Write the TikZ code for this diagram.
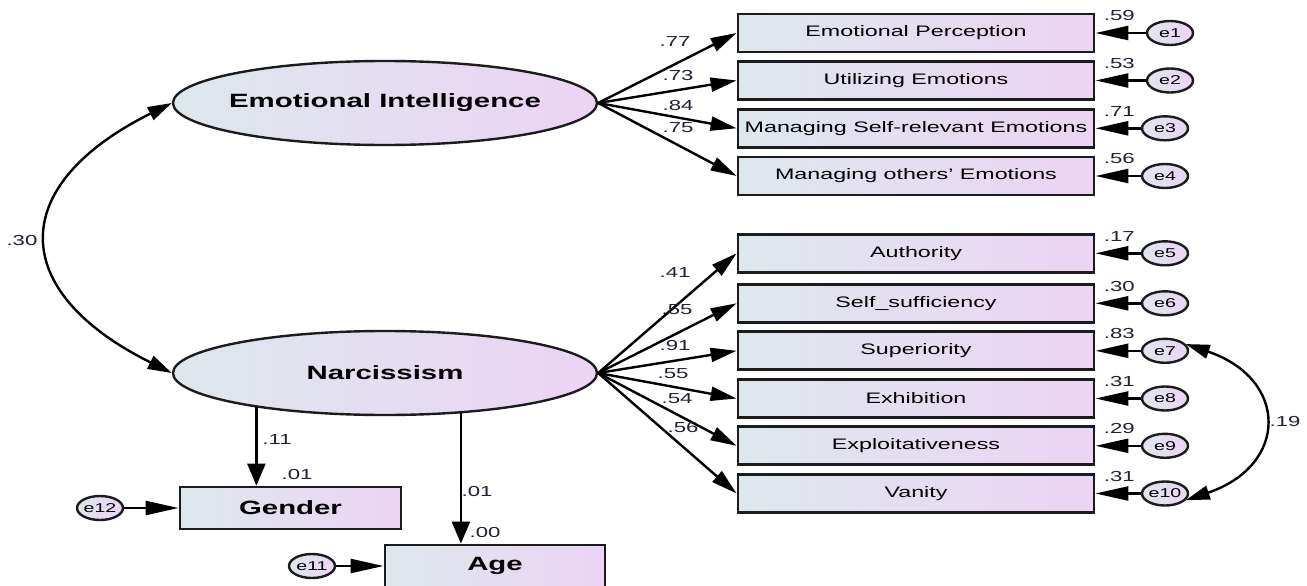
\documentclass[tikz,border=0pt]{standalone}
\usepackage{fontspec}
\setmainfont{Liberation Sans}[FakeStretch=1.53]
\usetikzlibrary{arrows.meta,shapes.geometric,calc}
\definecolor{gl}{RGB}{222,231,236}
\definecolor{gr}{RGB}{235,212,244}
\definecolor{bd}{RGB}{28,28,28}
\definecolor{numc}{RGB}{30,34,52}
\newcommand{\zw}[1]{\makebox[0pt]{#1}}
\begin{document}
\begin{tikzpicture}[x=1pt,y=-1pt,
 obs/.style={draw=bd, line width=2.8pt, left color=gl, right color=gr, minimum width=356pt, minimum height=38pt, inner sep=0pt, font=\fontsize{15.2}{18}\selectfont, text=black},
 lat/.style={ellipse, draw=bd, line width=2.4pt, left color=gl, right color=gr, minimum width=424pt, minimum height=84pt, inner sep=0pt, font=\fontsize{19.2}{22}\selectfont\bfseries},
 err/.style={ellipse, draw=bd, line width=2.4pt, left color=gl, right color=gr, minimum width=46pt, minimum height=24pt, inner sep=0pt, font=\fontsize{12.8}{15}\selectfont},
 numl/.style={font=\fontsize{14.5}{17}\selectfont, text=numc, inner sep=0pt},
 load/.style={draw=black, line width=2.4pt, -{Triangle[length=26pt,width=14pt]}},
 eload/.style={draw=black, line width=2.4pt, -{Triangle[length=33pt,width=14pt]}},
 vload/.style={draw=black, line width=2.4pt, -{Triangle[length=22pt,width=18pt]}},
 cov/.style={draw=black, line width=2.4pt, {Triangle[length=24pt,width=14pt]}-{Triangle[length=24pt,width=14pt]}},
]
\fill[white] (0,0) rectangle (1307,586);
\useasboundingbox (0,0) rectangle (1307,586);

% latent variables
\node[lat] (EI) at (385,103) {\zw{Emotional Intelligence}};
\node[lat] (N) at (385,373) {\zw{Narcissism}};

% EI indicators
\node[obs] (o1) at (916,33) {Emotional Perception};
\node[obs] (o2) at (916,80.5) {Utilizing Emotions};
\node[obs] (o3) at (916,128.3) {Managing Self-relevant Emotions};
\node[obs] (o4) at (916,176) {Managing others’ Emotions};

% N indicators
\node[obs] (o5) at (916,253.3) {Authority};
\node[obs] (o6) at (916,303.3) {Self\_sufficiency};
\node[obs] (o7) at (916,350.8) {Superiority};
\node[obs] (o8) at (916,398.5) {Exhibition};
\node[obs] (o9) at (916,445.8) {Exploitativeness};
\node[obs] (o10) at (916,493.5) {Vanity};

% Gender / Age
\node[obs, minimum width=221pt, minimum height=42pt, font=\fontsize{19.2}{22}\selectfont\bfseries] (G) at (290.5,508) {Gender};
\node[obs, minimum width=220pt, minimum height=42pt, font=\fontsize{19.2}{22}\selectfont\bfseries] (A) at (495,566) {Age};

% errors
\node[err] (e1) at (1170,33) {\zw{e1}};
\node[err] (e2) at (1170,80.5) {\zw{e2}};
\node[err] (e3) at (1165,128.3) {\zw{e3}};
\node[err] (e4) at (1165,176) {\zw{e4}};
\node[err] (e5) at (1165,253.3) {\zw{e5}};
\node[err] (e6) at (1165,303.3) {\zw{e6}};
\node[err] (e7) at (1165,350.8) {\zw{e7}};
\node[err] (e8) at (1165,398.5) {\zw{e8}};
\node[err] (e9) at (1165,445.8) {\zw{e9}};
\node[err] (e10) at (1165,493.5) {\zw{e10}};
\node[err] (e12) at (100,508) {\zw{e12}};
\node[err] (e11) at (312,566) {\zw{e11}};

% loadings
\foreach \b in {o1,o2,o3,o4} \draw[load] (EI.east) -- (\b.west);
\foreach \b in {o5,o6,o7,o8,o9,o10} \draw[load] (N.east) -- (\b.west);
\draw[vload] (N.-165.2) -- (N.-165.2 |- G.north);
\draw[vload] (N.-28.4) -- (N.-28.4 |- A.north);

% error arrows
\foreach \i in {1,...,10} \draw[eload] (e\i) -- (o\i);
\draw[eload] (e12) -- (G);
\draw[eload] (e11) -- (A);

% covariances
\draw[cov] (EI.west) .. controls +(-165,82) and +(-165,-82) .. (N.west);
\draw[cov] (e7.18) .. controls +(103,35) and +(103,-35) .. (e10.-18);

% labels
\node[numl] at (22,241) {.30};
\node[numl] at (1285,422) {.19};
\node[numl] at (675,42) {.77};
\node[numl] at (678,76) {.73};
\node[numl] at (678,106) {.84};
\node[numl] at (678,128) {.75};
\node[numl] at (675,273) {.41};
\node[numl] at (677,310) {.55};
\node[numl] at (675,346) {.91};
\node[numl] at (673,374) {.55};
\node[numl] at (677,399) {.54};
\node[numl] at (683,428) {.56};
\foreach \b/\v in {o1/.59,o2/.53,o3/.71,o4/.56,o5/.17,o6/.30,o7/.83,o8/.31,o9/.29,o10/.31}
  \node[numl] at ($(\b.east)+(24,-17)$) {\v};
\node[numl] at (277,440) {.11};
\node[numl] at (297,475) {.01};
\node[numl] at (477,492) {.01};
\node[numl] at (485,533) {.00};
\end{tikzpicture}
\end{document}
